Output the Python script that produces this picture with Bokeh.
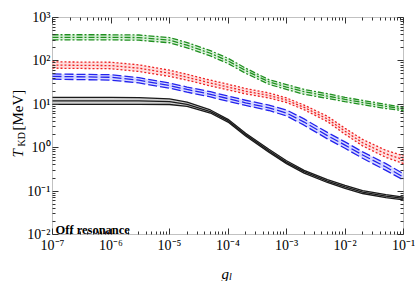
import math
from bokeh.plotting import figure
from bokeh.models import (Range1d, LogAxis, LogScale, FixedTicker, CustomJSTickFormatter, Label, BoxAnnotation)
from bokeh.embed import file_html
from bokeh.resources import INLINE

# ---- data ----
g_l = [1e-7, 1e-6, 3e-6, 1e-5, 2e-5, 5e-5, 1e-4, 2e-4, 5e-4, 1e-3, 2e-3, 5e-3, 1e-2, 2e-2, 5e-2, 1e-1]

green_hi = [400, 400, 395, 345, 265, 172, 115, 68, 37, 28.5, 22, 17.5, 14.5, 12.3, 10, 8.5]
green_mid = [350, 350, 345, 300, 230, 150, 100, 60, 33, 25, 19.5, 15.5, 13, 11, 9, 7.8]
green_lo = [305, 305, 300, 262, 200, 130, 87, 52, 29, 22, 17, 13.7, 11.5, 9.8, 8, 7.1]

red_hi = [95, 93, 81, 61, 49, 36, 29, 23, 18.3, 14, 9.6, 5.3, 2.8, 1.55, 0.87, 0.65]
red_mid = [80, 78, 68, 52, 42, 31, 25, 20, 16, 12.5, 8.5, 4.6, 2.4, 1.3, 0.72, 0.53]
red_lo = [68, 66, 57, 44, 36, 26.5, 21.5, 17.4, 14, 11, 7.5, 4, 2.05, 1.1, 0.6, 0.43]

blue_hi = [50, 48, 41, 31, 25, 19.5, 15.5, 12.4, 9.6, 7.4, 4.6, 2.25, 1.36, 0.8, 0.43, 0.25]
blue_mid = [44, 42, 36, 27, 22, 17, 13.5, 10.8, 8.3, 6.3, 3.9, 1.9, 1.15, 0.68, 0.36, 0.21]
blue_lo = [38, 36, 31, 23.5, 19, 14.8, 11.7, 9.4, 7.2, 5.4, 3.3, 1.6, 0.97, 0.57, 0.3, 0.18]

black_hi = [14.5, 14.5, 14.3, 13.3, 11.2, 7.4, 4.5, 2.15, 0.92, 0.5, 0.3, 0.183, 0.135, 0.102, 0.083, 0.073]
black_mid = [12, 12, 12, 11.5, 10, 6.8, 4.2, 2.0, 0.85, 0.46, 0.28, 0.17, 0.125, 0.095, 0.077, 0.068]
black_lo = [10, 10, 10, 9.9, 9, 6.3, 3.9, 1.86, 0.79, 0.43, 0.26, 0.158, 0.116, 0.088, 0.071, 0.063]

x_major = [1e-7, 1e-6, 1e-5, 1e-4, 1e-3, 1e-2, 1e-1]
y_major = [1e-2, 1e-1, 1e0, 1e1, 1e2, 1e3]
X_MIN, X_MAX = 1e-7, 1e-1
Y_MIN, Y_MAX = 1e-2, 1e3

FONT = "Liberation Serif"
W, H = 415, 281
# plot box in canvas pixels
BX0, BX1, BY0, BY1 = 52.0, 403.0, 17.0, 234.0
ppx = (BX1 - BX0) / 6.0   # px per decade (x)
ppy = (BY1 - BY0) / 5.0   # px per decade (y)
xs = math.log10(X_MIN) - BX0 / ppx
xe = xs + W / ppx
yt = math.log10(Y_MAX) + BY0 / ppy
yb = yt - H / ppy

p = figure(width=W, height=H, x_axis_type=None, y_axis_type=None,
           x_range=Range1d(10 ** xs, 10 ** xe), y_range=Range1d(10 ** yb, 10 ** yt),
           output_backend="svg", toolbar_location=None,
           min_border_left=0, min_border_right=0, min_border_top=0, min_border_bottom=0)
p.grid.visible = False
p.outline_line_color = None
p.background_fill_color = "white"
p.border_fill_color = "white"
p.x_scale = LogScale()
p.y_scale = LogScale()

x_minor = [m * 10.0 ** k for k in range(-7, -1) for m in range(2, 10)]
y_minor = [m * 10.0 ** k for k in range(-2, 3) for m in range(2, 10)]

fmt = CustomJSTickFormatter(code="""
const sup = {'-':'\u207b','0':'\u2070','1':'\u00b9','2':'\u00b2','3':'\u00b3','4':'\u2074','5':'\u2075','6':'\u2076','7':'\u2077','8':'\u2078','9':'\u2079'};
const e = Math.round(Math.log10(tick));
return '10' + String(e).split('').map(c => sup[c]).join('');
""")
blank = CustomJSTickFormatter(code="return '';")

def make_axis(ticks, minor, loc, labels=True):
    ax = LogAxis(fixed_location=loc)
    ax.ticker = FixedTicker(ticks=ticks, minor_ticks=minor)
    ax.formatter = fmt if labels else blank
    ax.major_tick_in = 6
    ax.major_tick_out = 0
    ax.minor_tick_in = 3
    ax.minor_tick_out = 0
    ax.axis_line_color = None
    ax.major_tick_line_color = "#333333"
    ax.minor_tick_line_color = "#333333"
    ax.major_label_text_font = FONT
    ax.major_label_text_font_size = "14px" if labels else "0px"
    ax.major_label_text_color = "black"
    ax.major_label_standoff = 3 if labels else 0
    return ax

bottom = make_axis(x_major, x_minor, Y_MIN)
p.add_layout(bottom, "below")
left = make_axis(y_major, y_minor, X_MIN)
left.major_label_standoff = 2
p.add_layout(left, "left")
top = make_axis(x_major, x_minor, Y_MAX, labels=False)
p.add_layout(top, "above")
right = make_axis(y_major, y_minor, X_MAX, labels=False)
p.add_layout(right, "right")

p.add_layout(BoxAnnotation(left=X_MIN, right=X_MAX, bottom=Y_MIN, top=Y_MAX,
                           fill_alpha=0, line_color="#333333", line_width=1, level="underlay"))

bands = [
    (black_lo, black_mid, black_hi, "#1a1a1a", "#9a9a9a", "solid"),
    (blue_lo, blue_mid, blue_hi, "#2222ee", "#aab0ff", "9 3"),
    (red_lo, red_mid, red_hi, "#ee2222", "#ffb8b8", "2 2"),
    (green_lo, green_mid, green_hi, "#1f8f1f", "#aee0ae", "6 2 2 2"),
]
for lo, mid, hi, col, light, dash in bands:
    p.varea(x=g_l, y1=lo, y2=hi, fill_color=light, fill_alpha=0.45)
    for ys in (lo, mid, hi):
        p.line(g_l, ys, line_color=col, line_width=1.3, line_dash=dash)

# ---- text placement helpers (canvas pixel -> data) ----
def dx(px):
    return 10 ** (xs + px / ppx)

def dy(py):
    return 10 ** (yt - py / ppy)

def lab(px, py, text, size, style="normal", angle=0.0):
    p.add_layout(Label(x=dx(px), y=dy(py), text=text, text_font=FONT, text_font_style=style,
                       text_font_size=size, text_color="black", angle=angle,
                       text_baseline="alphabetic", text_align="left"))

lab(55, 229, "Off resonance", "12.5px", "bold")

# x label g_l
lab(221, 273, "g", "15px", "italic")
lab(228.5, 276, "l", "10px", "italic")

# y label T_KD [MeV]
rot = math.pi / 2
lab(17.5, 157, "T", "15px", "italic", rot)
lab(20.5, 146, "KD", "10px", "normal", rot)
lab(17.5, 130, "[MeV]", "15px", "normal", rot)

open("out.html", "w", encoding="utf-8").write(file_html(p, INLINE))
